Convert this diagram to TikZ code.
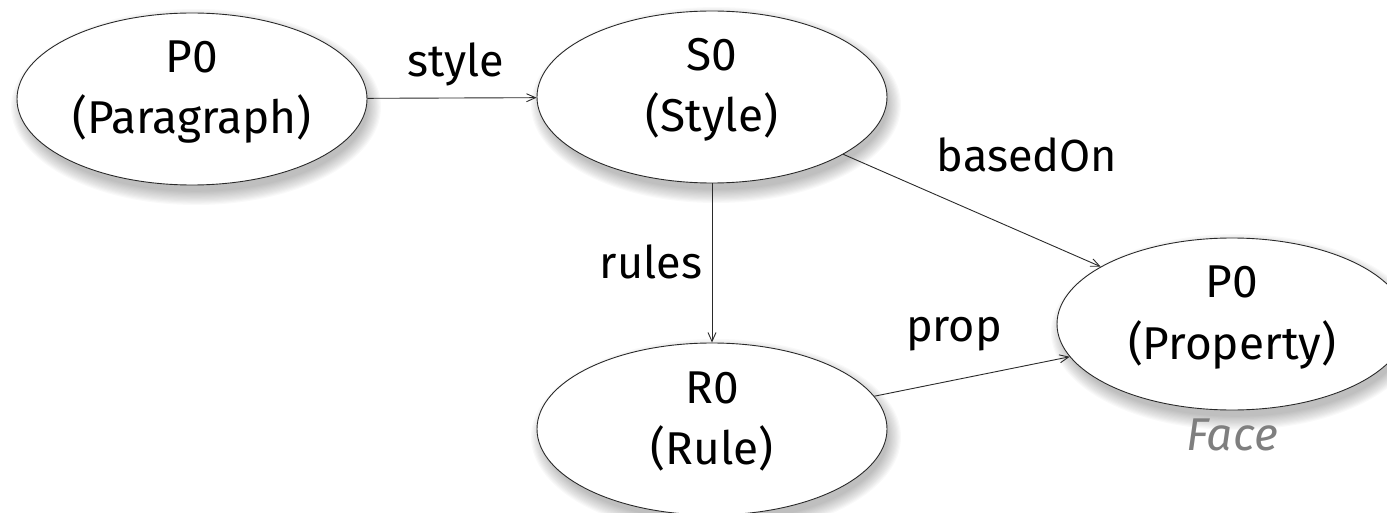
\documentclass[tikz,border=0pt]{standalone}
\usepackage{fontspec}
\setmainfont{Fira Sans}
\usetikzlibrary{arrows.meta,shapes.geometric,backgrounds}
\definecolor{linegray}{HTML}{2A2A2A}
\definecolor{facegray}{HTML}{7F7F7F}
\tikzset{
  entity/.style={ellipse, draw=linegray, line width=0.9pt, fill=white,
    minimum width=350pt, minimum height=172pt, inner sep=0pt},
  entname/.style={font=\fontsize{46}{55}\selectfont, anchor=base, inner sep=0pt},
  rel/.style={draw=linegray, line width=0.9pt,
    -{Straight Barb[length=9pt,width=8pt]}},
  rellabel/.style={font=\fontsize{45}{54}\selectfont, anchor=base, inner sep=0pt},
  note/.style={font=\fontsize{46}{55}\selectfont\itshape, text=facegray,
    anchor=base, inner sep=0pt},
}
\begin{document}
\begin{tikzpicture}[x=1pt,y=-1pt]
\useasboundingbox (0,0) rectangle (1387,513);

% entities
\node[entity] (para) at (192,99) {};
\node[entity] (sty)  at (712,97) {};
\node[entity] (rule) at (712,429) {};
\node[entity] (prop) at (1232,324) {};

% soft drop shadows under the entities
\begin{scope}[on background layer]
  \foreach \n in {para,sty,rule,prop}{
    \foreach \k in {0,...,11}{
      \fill[black, opacity=0.025]
        ([xshift=4pt,yshift=-8pt]\n.center)
        ellipse [x radius={185pt-1.2pt*\k}, y radius={98pt-1.2pt*\k}];
    }
  }
\end{scope}

% entity names and types
\foreach \n/\a/\b in {para/P0/(Paragraph), sty/S0/(Style),
                      rule/R0/(Rule), prop/P0/(Property)}{
  \node[entname] (\n-id)   at ([yshift=26pt]\n.center)  {\a};
  \node[entname] (\n-type) at ([yshift=-35pt]\n.center) {\b};
}

% relations
\draw[rel] (para) -- (sty);
\draw[rel] (sty) -- (rule);
\draw[rel] (sty) -- (prop);
\draw[rel] (rule) -- (prop);

% relation labels
\node[rellabel] (l-style)   at (456,77)   {style};
\node[rellabel] (l-rules)   at (651,278)  {rules};
\node[rellabel] (l-based)   at (1027,172) {basedOn};
\node[rellabel] (l-prop)    at (954,341)  {prop};

% annotation under the property
\node[note] (face) at (1232,450) {Face};
\end{tikzpicture}
\end{document}
